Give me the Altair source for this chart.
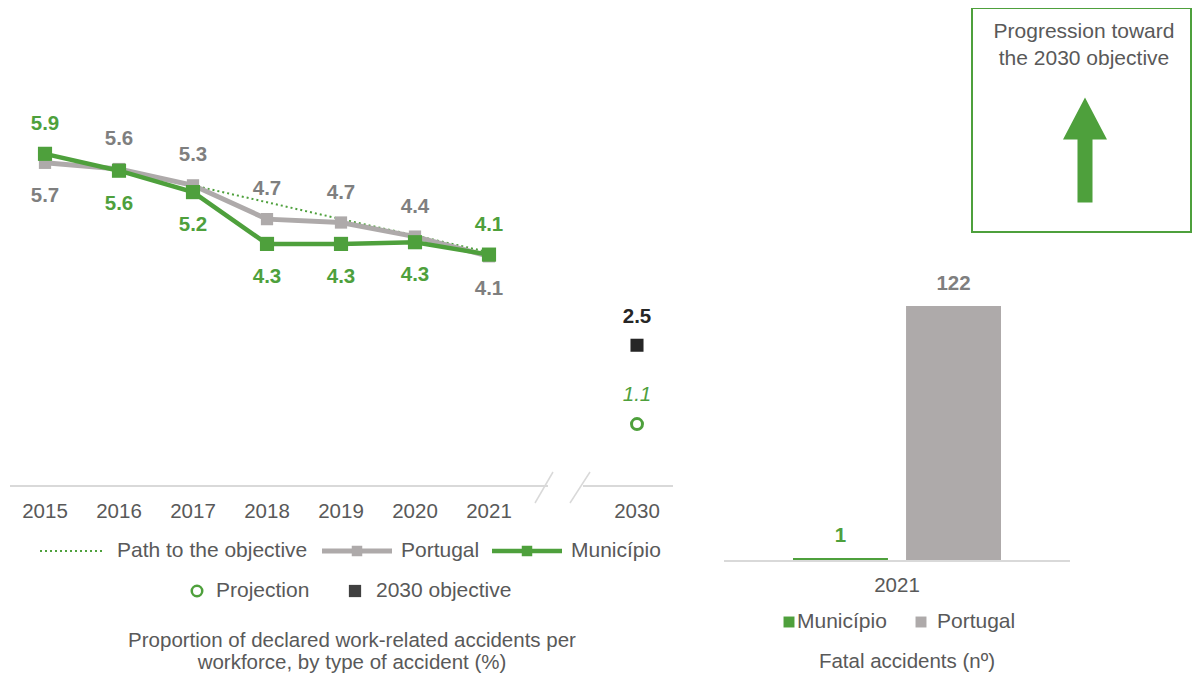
import altair as alt
import pandas as pd

# ---------------- data ----------------
years = ["2015", "2016", "2017", "2018", "2019", "2020", "2021"]
municipio = [5.90, 5.60, 5.22, 4.30, 4.30, 4.33, 4.11]
portugal = [5.74, 5.63, 5.34, 4.74, 4.68, 4.43, 4.08]
municipio_label_pos = ["above", "below", "below", "below", "below", "below", "above"]
portugal_label_pos = ["below", "above", "above", "above", "above", "above", "below"]
path_years = ["2017", "2018", "2019", "2020", "2021"]
path_values = [5.34, 5.04, 4.74, 4.45, 4.15]
target_year = "2030"
objective_2030 = 2.5
projection_2030 = 1.1
fatal_year = "2021"
fatal_categories = ["Município", "Portugal"]
fatal_values = [1, 122]

series_names = ["Path to the objective", "Portugal", "Município", "Projection", "2030 objective"]
caption_left = ["Proportion of declared work-related accidents per", "workforce, by type of accident (%)"]
caption_right = "Fatal accidents (nº)"
box_text = ["Progression toward", "the 2030 objective"]

# ---------------- style ----------------
GREEN = "#4EA03C"
GRAY_LINE = "#AEAAAA"
GRAY_TEXT = "#595959"
GRAY_LABEL = "#7F7F7F"
DARK = "#262626"
AXIS_GRAY = "#D9D9D9"
FONT = "Liberation Sans"
LBL = 20.5   # value labels
TXT = 21     # legend / box text

one = pd.DataFrame({"k": [0]})

# ---------------- left: line chart ----------------
x_domain = years + ["gap", target_year]
xs = alt.Scale(type="point", domain=x_domain, range=[37, 629], padding=0)
ys = alt.Scale(domain=[0, 8.49], range=[478, 0], nice=False, zero=False)


def X():
    return alt.X("year:N", scale=xs, axis=None)


def Y():
    return alt.Y("value:Q", scale=ys, axis=None)


df_m = pd.DataFrame({"year": years, "value": municipio, "pos": municipio_label_pos})
df_p = pd.DataFrame({"year": years, "value": portugal, "pos": portugal_label_pos})
df_path = pd.DataFrame({"year": path_years, "value": path_values})
df_obj = pd.DataFrame({"year": [target_year], "value": [objective_2030]})
df_proj = pd.DataFrame({"year": [target_year], "value": [projection_2030]})
df_years = pd.DataFrame({"year": years + [target_year]})

path_line = alt.Chart(df_path).mark_line(color=GREEN, strokeWidth=2, strokeDash=[2, 3]).encode(X(), Y())
port_line = alt.Chart(df_p).mark_line(color=GRAY_LINE, strokeWidth=5).encode(X(), Y())
port_pts = alt.Chart(df_p).mark_square(color=GRAY_LINE, size=150, opacity=1).encode(X(), Y())
mun_line = alt.Chart(df_m).mark_line(color=GREEN, strokeWidth=4.5).encode(X(), Y())
mun_pts = alt.Chart(df_m).mark_square(color=GREEN, size=200, opacity=1).encode(X(), Y())
obj_pt = alt.Chart(df_obj).mark_square(color=DARK, size=170, opacity=1).encode(X(), Y())
proj_pt = alt.Chart(df_proj).mark_point(shape="circle", color=GREEN, size=120, strokeWidth=3,
                                         filled=False, opacity=1).encode(X(), Y())


def value_labels(df, pos, dy, color):
    return alt.Chart(df).transform_filter(alt.datum.pos == pos).mark_text(
        font=FONT, fontSize=LBL, fontWeight="bold", color=color, dy=dy, baseline="middle"
    ).encode(X(), Y(), text=alt.Text("value:Q", format=".1f"))


lab_m_a = value_labels(df_m, "above", -30, GREEN)
lab_m_b = value_labels(df_m, "below", 33, GREEN)
lab_p_a = value_labels(df_p, "above", -30, GRAY_LABEL)
lab_p_b = value_labels(df_p, "below", 33, GRAY_LABEL)
lab_obj = alt.Chart(df_obj).mark_text(font=FONT, fontSize=LBL, fontWeight="bold", color=DARK,
                                      dy=-28, baseline="middle").encode(
    X(), Y(), text=alt.Text("value:Q", format=".1f"))
lab_proj = alt.Chart(df_proj).mark_text(font=FONT, fontSize=LBL, fontStyle="italic", color=GREEN,
                                        dy=-29, baseline="middle").encode(
    X(), Y(), text=alt.Text("value:Q", format=".1f"))

year_labels = alt.Chart(df_years).mark_text(font=FONT, fontSize=20.5, color=GRAY_TEXT,
                                            baseline="middle").encode(
    X(), y=alt.value(504), text="year:N")

left = alt.layer(path_line, port_line, mun_line, port_pts, mun_pts, obj_pt, proj_pt,
                 lab_m_a, lab_m_b, lab_p_a, lab_p_b, lab_obj, lab_proj, year_labels)

# ---------------- right: bar chart ----------------
df_f = pd.DataFrame({"cat": fatal_categories, "v": fatal_values})
bx = alt.Scale(type="band", domain=fatal_categories, range=[785, 993], paddingInner=0.16, paddingOuter=0)
by = alt.Scale(domain=[0, 122], range=[552, 298], nice=False, zero=True)
is_mun = alt.datum.cat == fatal_categories[0]

bars = alt.Chart(df_f).mark_bar(minBandSize=3).encode(
    x=alt.X("cat:N", scale=bx, axis=None),
    y=alt.Y("v:Q", scale=by, axis=None),
    color=alt.condition(is_mun, alt.value(GREEN), alt.value(GRAY_LINE)),
)
bar_labels = alt.Chart(df_f).mark_text(font=FONT, fontSize=LBL, fontWeight="bold", dy=-22,
                                       baseline="middle").encode(
    x=alt.X("cat:N", scale=bx, axis=None),
    y=alt.Y("v:Q", scale=by, axis=None),
    text="v:Q",
    color=alt.condition(is_mun, alt.value(GREEN), alt.value(GRAY_LABEL)),
)
right = alt.layer(bars, bar_labels)


# ---------------- decorations (axes, legends, captions, box) ----------------
def rule(x1, x2, y1, y2, color, w, dash=None):
    kw = dict(color=color, strokeWidth=w)
    if dash:
        kw["strokeDash"] = dash
    return alt.Chart(one).mark_rule(**kw).encode(
        x=alt.value(x1), x2=alt.value(x2), y=alt.value(y1), y2=alt.value(y2))


def txt(s, x, y, size=TXT, align="left", color=GRAY_TEXT, **kw):
    return alt.Chart(one).mark_text(text=s, font=FONT, fontSize=size, align=align, color=color,
                                    baseline="middle", **kw).encode(x=alt.value(x), y=alt.value(y))


def sq(x, y, size, color):
    return alt.Chart(one).mark_square(color=color, size=size, opacity=1).encode(
        x=alt.value(x), y=alt.value(y))


axes_deco = [
    # left broken x axis
    rule(2, 540, 478, 478, AXIS_GRAY, 2),
    rule(575, 665, 478, 478, AXIS_GRAY, 2),
    rule(527, 545, 495, 464, AXIS_GRAY, 1.5),
    rule(562, 582, 495, 464, AXIS_GRAY, 1.5),
    # right axis baseline
    rule(716, 1062, 553, 553, AXIS_GRAY, 2),
]

deco = [
    # left legend row 1
    rule(32, 97, 543, 543, GREEN, 2, [2, 3]),
    txt(series_names[0], 109, 543),
    rule(314, 384, 543, 543, GRAY_LINE, 5),
    sq(349, 543, 110, GRAY_LINE),
    txt(series_names[1], 393, 543),
    rule(484, 554, 543, 543, GREEN, 4.5),
    sq(519, 543, 110, GREEN),
    txt(series_names[2], 563, 543),
    # left legend row 2
    alt.Chart(one).mark_point(shape="circle", color=GREEN, size=110, strokeWidth=2.5, filled=False,
                              opacity=1).encode(x=alt.value(189), y=alt.value(583)),
    txt(series_names[3], 208, 583),
    sq(347, 583, 150, "#404040"),
    txt(series_names[4], 368, 583),
    # left caption
    txt(caption_left[0], 344, 633, size=20.5, align="center"),
    txt(caption_left[1], 344, 655, size=20.5, align="center"),
    # right axis label
    txt(fatal_year, 889, 578, size=20.5, align="center"),
    # right legend
    sq(781, 614, 120, GREEN),
    txt(fatal_categories[0], 789, 614),
    sq(913, 614, 120, GRAY_LINE),
    txt(fatal_categories[1], 929, 614),
    txt(caption_right, 899, 654, size=20.5, align="center"),
    # box
    alt.Chart(one).mark_rect(fill="white", stroke=GREEN, strokeWidth=2).encode(
        x=alt.value(964), x2=alt.value(1183), y=alt.value(0), y2=alt.value(224)),
    txt(box_text[0], 1076, 24, align="center"),
    txt(box_text[1], 1076, 51, align="center"),
    alt.Chart(one).mark_point(
        shape="M0,-1L0.419,-0.2L0.143,-0.2L0.143,1L-0.143,1L-0.143,-0.2L-0.419,-0.2Z",
        filled=True, color=GREEN, size=11025, opacity=1, strokeWidth=0,
    ).encode(x=alt.value(1077), y=alt.value(142)),
]

chart = alt.layer(*axes_deco, left, right, *deco).resolve_scale(
    x="independent", y="independent"
).properties(
    width=1184, height=666, padding=0, autosize=alt.AutoSizeParams(type="none"),
    background="white",
).configure_view(stroke=None)

chart.save("out.html", embed_options={"renderer": "svg", "actions": False})
